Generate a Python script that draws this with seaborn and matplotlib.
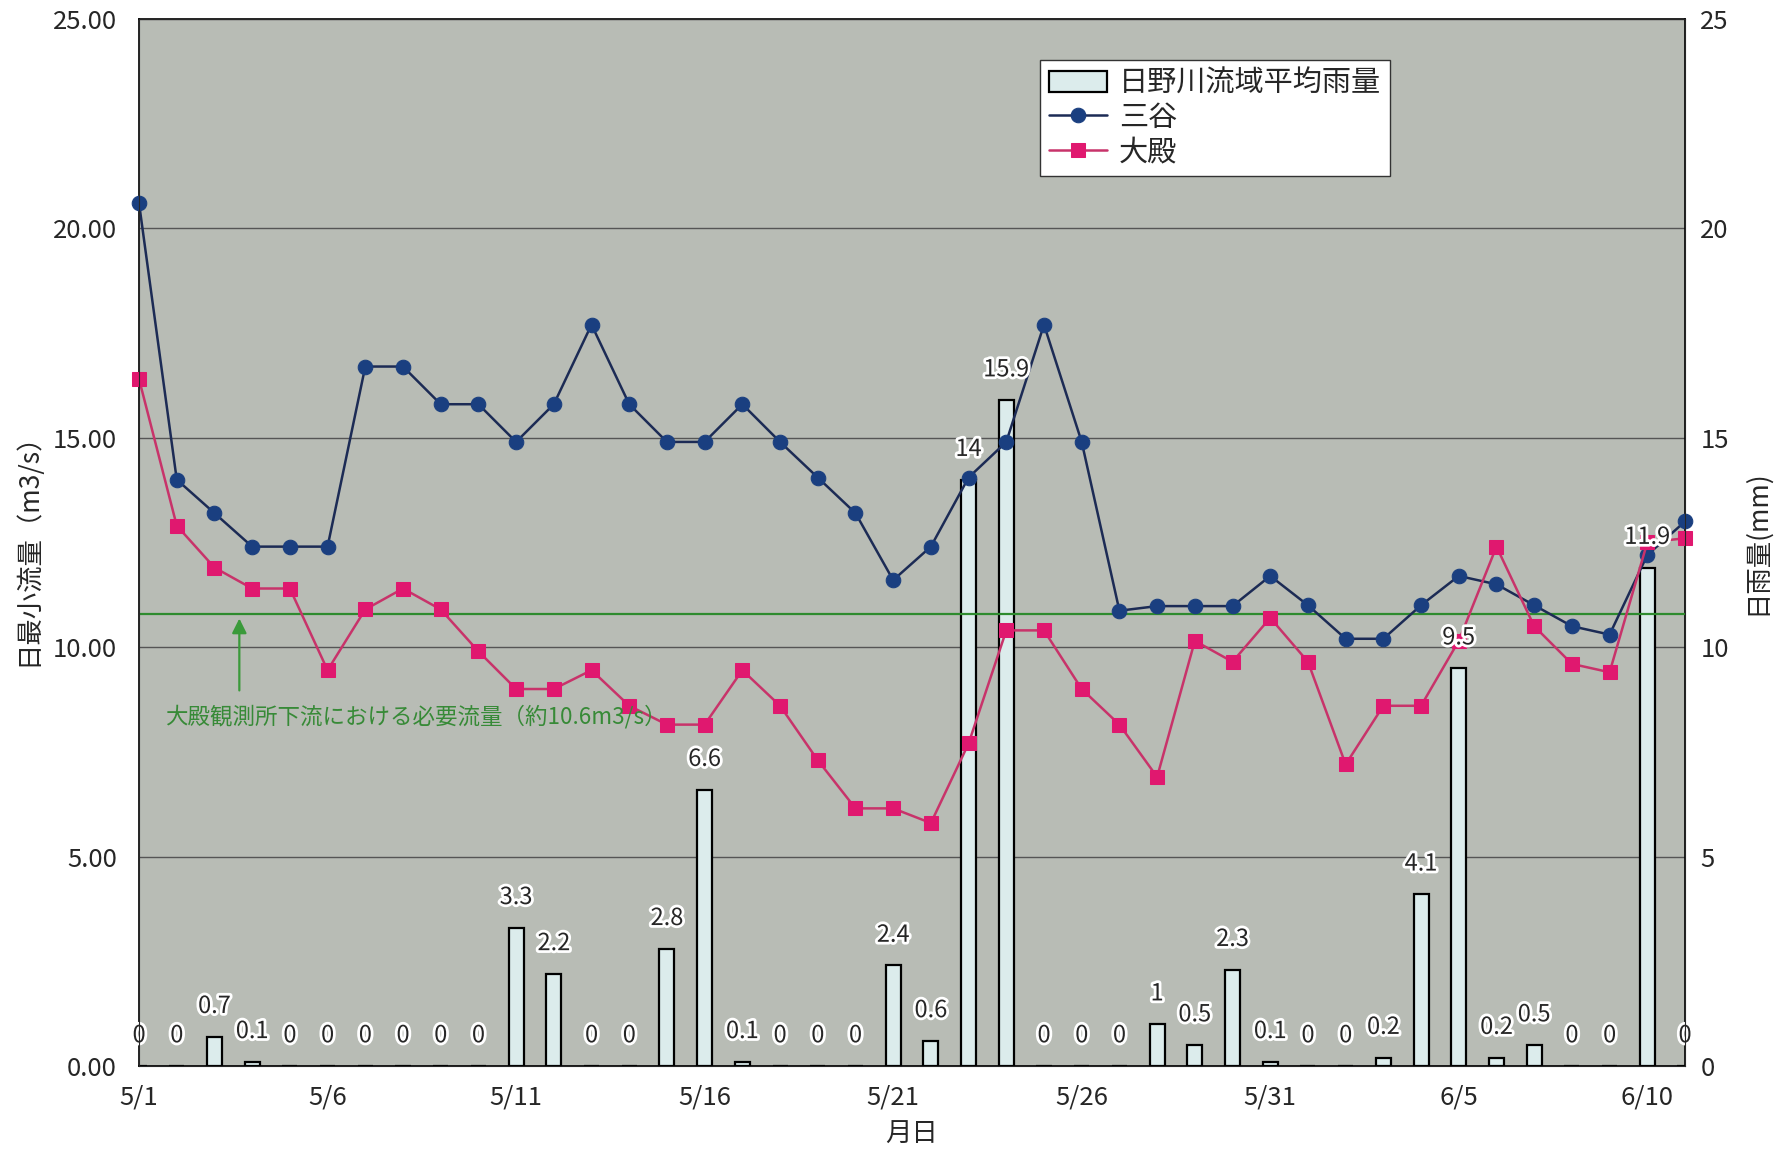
import numpy as np
import pandas as pd
import matplotlib.pyplot as plt
import matplotlib.patheffects as pe
from matplotlib.ticker import FormatStrFormatter
import seaborn as sns

# 日付 (5/1 - 6/11)
dates = ['5/1', '5/2', '5/3', '5/4', '5/5', '5/6', '5/7', '5/8', '5/9', '5/10',
         '5/11', '5/12', '5/13', '5/14', '5/15', '5/16', '5/17', '5/18', '5/19', '5/20',
         '5/21', '5/22', '5/23', '5/24', '5/25', '5/26', '5/27', '5/28', '5/29', '5/30',
         '5/31', '6/1', '6/2', '6/3', '6/4', '6/5', '6/6', '6/7', '6/8', '6/9',
         '6/10', '6/11']

# 日野川流域平均雨量 (mm)
rain = [0, 0, 0.7, 0.1, 0, 0, 0, 0, 0, 0,
        3.3, 2.2, 0, 0, 2.8, 6.6, 0.1, 0, 0, 0,
        2.4, 0.6, 14, 15.9, 0, 0, 0, 1, 0.5, 2.3,
        0.1, 0, 0, 0.2, 4.1, 9.5, 0.2, 0.5, 0, 0,
        11.9, 0]

# 三谷 日最小流量 (m3/s)
mitani = [20.6, 14.0, 13.2, 12.4, 12.4, 12.4, 16.7, 16.7, 15.8, 15.8,
          14.9, 15.8, 17.7, 15.8, 14.9, 14.9, 15.8, 14.9, 14.05, 13.2,
          11.6, 12.4, 14.05, 14.9, 17.7, 14.9, 10.87, 10.98, 10.98, 10.98,
          11.7, 11.0, 10.2, 10.2, 11.0, 11.7, 11.5, 11.0, 10.5, 10.3,
          12.2, 13.0]

# 大殿 日最小流量 (m3/s)
oodono = [16.4, 12.9, 11.9, 11.4, 11.4, 9.45, 10.9, 11.4, 10.9, 9.9,
          9.0, 9.0, 9.45, 8.6, 8.15, 8.15, 9.45, 8.6, 7.3, 6.15,
          6.15, 5.8, 7.7, 10.4, 10.4, 9.0, 8.15, 6.9, 10.15, 9.65,
          10.7, 9.65, 7.2, 8.6, 8.6, 10.15, 12.4, 10.5, 9.6, 9.4,
          12.5, 12.6]

required_flow = 10.8

df = pd.DataFrame({'day': np.arange(len(dates)), 'rain': rain,
                   'mitani': mitani, 'oodono': oodono})

sns.set_style('white')
plt.rcParams['font.family'] = ['Noto Sans CJK JP', 'DejaVu Sans']

fig = plt.figure(figsize=(17.78, 11.54), dpi=100)
ax = fig.add_axes([0.0782, 0.0763, 0.8695, 0.9073])
ax.set_facecolor('#b8bcb5')

# 雨量 (棒)
sns.barplot(data=df, x='day', y='rain', ax=ax, native_scale=True,
            color='#dcecec', saturation=1, edgecolor='black', linewidth=1.6,
            width=0.4, label='日野川流域平均雨量', zorder=2)

# 流量 (折れ線)
sns.lineplot(data=df, x='day', y='mitani', ax=ax, color='#1c2b55', linewidth=1.8,
             marker='o', markersize=10.5, markerfacecolor='#1a3f80',
             markeredgecolor='#1a3f80', label='三谷', clip_on=False, zorder=4)
sns.lineplot(data=df, x='day', y='oodono', ax=ax, color='#c8336a', linewidth=1.8,
             marker='s', markersize=9.5, markerfacecolor='#e0186f',
             markeredgecolor='#e0186f', label='大殿', clip_on=False, zorder=4)

# 必要流量
ax.axhline(required_flow, color='#2e8b2e', lw=1.6, zorder=3)
ax.annotate('', xy=(2.66, required_flow - 0.05), xytext=(2.66, 8.9),
            arrowprops=dict(arrowstyle='-|>', color='#3a9a3a', lw=1.6,
                            mutation_scale=22))
ax.text(0.7, 8.35, '大殿観測所下流における必要流量（約10.6m3/s）',
        color='#378a37', fontsize=16.2, va='center', zorder=5)

# 雨量ラベル
for i, v in enumerate(rain):
    ax.text(i, v + 0.72, f'{v:g}', ha='center', va='center', fontsize=17,
            zorder=6, path_effects=[pe.withStroke(linewidth=4, foreground='white')])

ax.set_xlim(0, len(dates) - 1)
ax.set_ylim(0, 25)
ax.set_xticks(range(0, len(dates), 5))
ax.set_xticklabels(dates[::5])
ax.set_yticks(np.arange(0, 26, 5))
ax.yaxis.set_major_formatter(FormatStrFormatter('%.2f'))
ax.yaxis.grid(True, color='#555555', lw=1)
ax.set_axisbelow(True)
ax.tick_params(axis='x', direction='out', length=5, width=1, pad=8, labelsize=18.5)
ax.tick_params(axis='y', length=0, pad=16, labelsize=18.5)
ax.set_xlabel('月日', fontsize=19, labelpad=8)
ax.set_ylabel('日最小流量（m3/s）', fontsize=19, labelpad=8)
for s in ax.spines.values():
    s.set_color('black')
    s.set_linewidth(1.2)

# 右軸
ax2 = ax.twinx()
ax2.set_ylim(0, 25)
ax2.set_yticks(np.arange(0, 26, 5))
ax2.set_yticklabels([str(t) for t in range(0, 26, 5)])
ax2.tick_params(axis='y', length=0, pad=11, labelsize=18.5)
ax2.set_ylabel('日雨量(mm)', fontsize=19, labelpad=10)
ax2.grid(False)

# 凡例 (雨量を先頭に)
handles, labels = ax.get_legend_handles_labels()
order = [labels.index(n) for n in ['日野川流域平均雨量', '三谷', '大殿']]
leg = ax.legend([handles[i] for i in order], [labels[i] for i in order],
                loc='upper left', bbox_to_anchor=(0.583, 0.961),
                fontsize=21, frameon=True, fancybox=False, framealpha=1,
                edgecolor='#333333', handlelength=2.0, handleheight=0.75,
                borderpad=0.3, labelspacing=0.15, handletextpad=0.4,
                borderaxespad=0)
leg.set_zorder(10)

fig.savefig('out.png', dpi=100)
